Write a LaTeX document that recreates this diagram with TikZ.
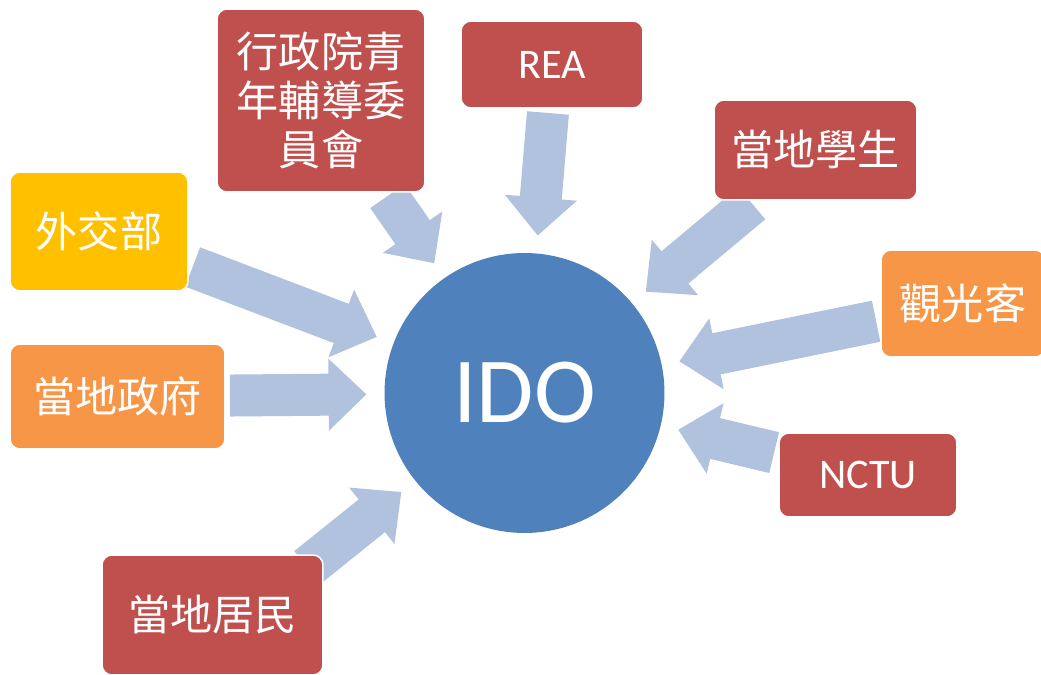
\documentclass[tikz,border=0pt]{standalone}
\usepackage{fontspec}
\setmainfont{Carlito}
\newfontfamily\cjk{Noto Sans CJK TC}
\usepackage[HTML]{xcolor}
\usepackage{tikz}
\usetikzlibrary{positioning, arrows, arrows.meta, backgrounds}

\definecolor{idoblue}{HTML}{4F81BD}
\definecolor{boxred}{HTML}{C0504D}
\definecolor{boxorange}{HTML}{F79646}
\definecolor{boxyellow}{HTML}{FFC000}
\definecolor{arrowblue}{HTML}{B0C2DE}

\begin{document}
\begin{tikzpicture}[x=0.02cm, y=-0.02cm, >=Latex, % Setting global styles
    box/.style={rectangle, rounded corners=0.2cm, draw=white, line width=0.03cm,
        text=white, inner sep=0pt, outer sep=0pt, align=center,
        font=\cjk\fontsize{24}{28}\selectfont},
    redbox/.style={box, fill=boxred},
    orangebox/.style={box, fill=boxorange},
    yellowbox/.style={box, fill=boxyellow},
    inflow/.style={draw=arrowblue, line width=0.84cm,
        -{Triangle[width=1.4cm, length=0.76cm]},
        shorten <=0.1cm, shorten >=0.36cm}]

    \useasboundingbox (0,0) rectangle (1041,675);

    % 1. Define Nodes: the centre IDO and the eight partners round it
    \node[circle, fill=idoblue, text=white, minimum size=5.6cm, inner sep=0pt, outer sep=0pt,
        font=\fontsize{53}{58}\selectfont] (ido) at (524.5,393) {IDO};

    \node[yellowbox, minimum width=3.56cm, minimum height=2.38cm] (waijiao) at (99,231.5) {外交部};
    \node[orangebox, minimum width=4.30cm, minimum height=2.10cm] (zhengfu) at (117.5,396.5) {當地政府};
    \node[redbox, minimum width=4.16cm, minimum height=3.66cm] (qingfu) at (321,100.5) {行政院青\\年輔導委\\員會};
    \node[redbox, minimum width=3.64cm, minimum height=1.74cm, font=\fontsize{24}{28}\selectfont] (rea) at (552,64.5) {REA};
    \node[redbox, minimum width=4.06cm, minimum height=2.00cm] (xuesheng) at (815.5,150) {當地學生};
    \node[orangebox, minimum width=3.28cm, minimum height=2.14cm] (guanguang) at (963,303.5) {觀光客};
    \node[redbox, minimum width=3.56cm, minimum height=1.68cm, font=\fontsize{24}{28}\selectfont] (nctu) at (868,475) {NCTU};
    \node[redbox, minimum width=4.42cm, minimum height=2.40cm] (jumin) at (212.5,615) {當地居民};

    % 2. Draw block arrows from every partner into IDO (behind the boxes)
    \begin{scope}[on background layer]
        \draw[inflow] (waijiao) -- (ido);
        \draw[inflow] (zhengfu) -- (ido);
        \draw[inflow] (qingfu) -- (ido);
        \draw[inflow] (rea) -- (ido);
        \draw[inflow] (xuesheng) -- (ido);
        \draw[inflow] (guanguang) -- (ido);
        \draw[inflow] (nctu) -- (ido);
        % this one comes out of the box's corner
        \draw[inflow, shorten <=-0.4cm] (jumin.north east) -- (ido);
    \end{scope}
\end{tikzpicture}
\end{document}
